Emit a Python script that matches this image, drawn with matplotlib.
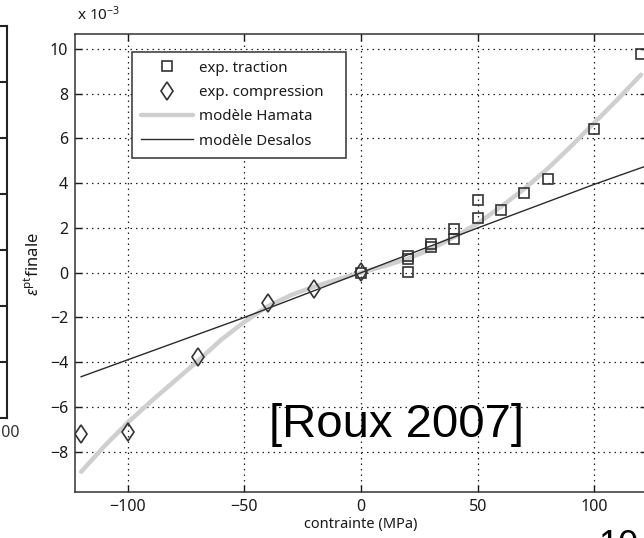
import matplotlib
matplotlib.use("Agg")
import matplotlib.pyplot as plt
import numpy as np

plt.rcParams['font.family'] = ['Noto Sans', 'DejaVu Sans']
plt.rcParams['mathtext.fontset'] = 'custom'
plt.rcParams['mathtext.rm'] = 'Noto Sans'
plt.rcParams['mathtext.it'] = 'Noto Sans:italic'

# --- data ---
trac_x = [0, 20, 20, 20, 30, 30, 40, 40, 50, 50, 60, 70, 80, 100, 120]
trac_y = [0.0, 0.05, 0.6, 0.75, 1.15, 1.3, 1.5, 1.95, 2.43, 3.25, 2.8, 3.55, 4.2, 6.42, 9.76]

comp_x = [-120, -100, -70, -40, -20, 0]
comp_y = [-7.2, -7.13, -3.75, -1.37, -0.75, 0.03]

hamata_x = [-120, -110, -100, -90, -80, -70, -60, -50, -40, -30, -20, -10, 0,
            10, 20, 30, 40, 50, 60, 70, 80, 90, 100, 110, 120]
hamata_y = [-8.9, -7.75, -6.7, -5.75, -4.85, -3.95, -3.0, -2.2, -1.5, -1.0, -0.62, -0.3, 0.0,
            0.3, 0.62, 1.05, 1.6, 2.2, 2.95, 3.75, 4.65, 5.65, 6.7, 7.75, 8.85]

desalos_x = [-120, -50, 0, 50, 100, 122.5]
desalos_y = [-4.65, -2.0, 0.0, 2.0, 3.95, 4.78]

xticks = [-100, -50, 0, 50, 100]
yticks = [-8, -6, -4, -2, 0, 2, 4, 6, 8, 10]
labels = ['exp. traction', 'exp. compression', 'modèle Hamata', 'modèle Desalos']

W, H = 644, 538
fig = plt.figure(figsize=(W / 100, H / 100), dpi=100)

def fx(px):
    return px / W

def fy(py):
    return 1 - py / H

# --- partial neighbour panel at the left edge (cropped) ---
axl = fig.add_axes([fx(-300), fy(418), fx(307), fy(26) - fy(418)])
axl.set_xlim(0, 1)
axl.set_ylim(418, 26)
for py in [82, 138, 194, 250, 306, 362]:
    axl.axhline(py, color='#222', lw=1.5)
axl.set_xticks([])
axl.set_yticks([])
for s in axl.spines.values():
    s.set_linewidth(1.5)
    s.set_color('#222')
fig.text(fx(6), fy(433), '100', ha='center', va='center', fontsize=11.5, color='#333')

# --- main axes ---
ax = fig.add_axes([fx(75.3), fy(491.7), fx(646.8) - fx(75.3), fy(34) - fy(491.7)])
ax.set_xlim(-122.5, 122.5)
ax.set_ylim(-9.79, 10.67)

ax.plot(hamata_x, hamata_y, color='#cfcfcf', lw=3.2, solid_capstyle='round',
        label=labels[2], zorder=2)
ax.plot(desalos_x, desalos_y, color='#2a2a2a', lw=1.0, label=labels[3], zorder=3)
ax.plot(trac_x, trac_y, ls='none', marker='s', ms=6.8, mfc='none', mec='#333',
        mew=1.2, label=labels[0], zorder=4)
ax.plot(comp_x, comp_y, ls='none', marker='d', ms=9.5, mfc='none', mec='#333',
        mew=1.2, label=labels[1], zorder=4)

ax.set_xticks(xticks)
ax.set_xticklabels([str(v).replace('-', '\u2212') for v in xticks])
ax.set_yticks(yticks)
ax.set_yticklabels([str(v).replace('-', '\u2212') for v in yticks])
ax.tick_params(direction='in', length=5, width=1, colors='#1a1a1a', labelsize=11.5,
               top=True, right=True, pad=5)
for s in ax.spines.values():
    s.set_linewidth(1.1)
    s.set_color('#333')
ax.grid(True, color='#222', lw=0.9, ls=(0, (1.2, 3.2)))

ax.set_xlabel('contrainte (MPa)', fontsize=10.5, color='#1a1a1a', labelpad=2)
fig.text(fx(33), fy(264), r'$\varepsilon^{\rm pt}$finale', rotation=90,
         ha='center', va='center', fontsize=12, color='#1a1a1a')
fig.text(fx(77), fy(15), r'x 10$^{-3}$', ha='left', va='center', fontsize=11, color='#1a1a1a')

handles, labs = ax.get_legend_handles_labels()
order = [labs.index(l) for l in labels]
leg = ax.legend([handles[i] for i in order], [labs[i] for i in order],
                loc='upper left', mode='expand',
                bbox_to_anchor=(fx(131.7), fy(51.7) - 0.01, fx(345.7) - fx(131.7), 0.01),
                bbox_transform=fig.transFigure, borderaxespad=0, fontsize=10.8,
                handlelength=3.5, handletextpad=0.4, labelspacing=0.62,
                borderpad=0.6, fancybox=False, framealpha=1, edgecolor='#333')
leg.get_frame().set_linewidth(1.1)
for t in leg.get_texts():
    t.set_color('#1a1a1a')

fig.text(fx(396), fy(425), '[Roux 2007]', ha='center', va='center',
         fontsize=34, family='Liberation Sans', color='black')
fig.text(fx(598), fy(556), '10', ha='left', va='baseline',
         fontsize=26, family='Liberation Sans', color='black')

fig.savefig('out.png', dpi=100)
